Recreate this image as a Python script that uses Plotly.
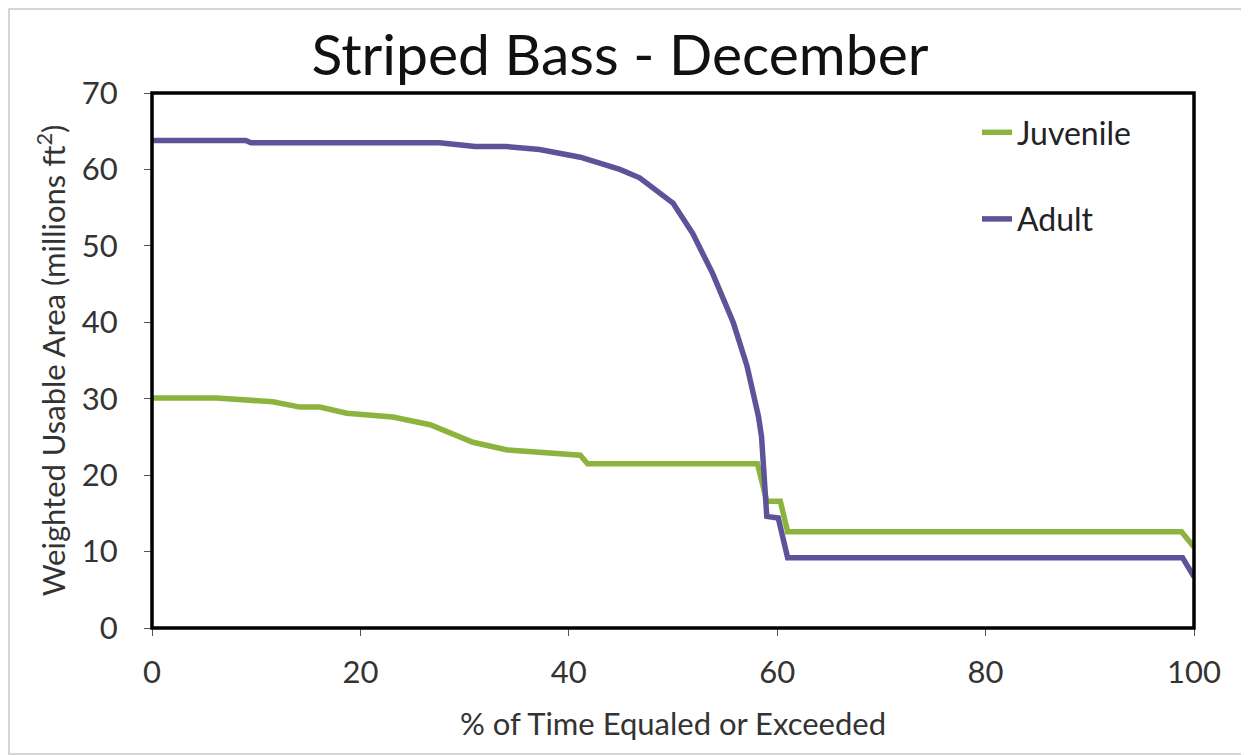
import plotly.graph_objects as go

# Data
juv_x = [0, 6.2, 11.6, 14.2, 16.1, 18.7, 23.1, 26.7, 30.8, 34.1, 41.1, 41.8, 58.1, 59.0, 60.3, 61.0, 98.8, 100]
juv_y = [30.1, 30.1, 29.6, 28.9, 28.9, 28.1, 27.6, 26.6, 24.3, 23.3, 22.6, 21.5, 21.5, 16.6, 16.6, 12.6, 12.6, 10.6]

adult_x = [0, 9.0, 9.5, 27.6, 31.0, 34.0, 37.2, 41.1, 44.9, 46.8, 50.0, 51.9, 53.8, 55.8, 57.1, 58.2, 58.5, 59.0, 60.1, 61.0, 98.9, 100]
adult_y = [63.8, 63.8, 63.5, 63.5, 63.0, 63.0, 62.6, 61.6, 60.0, 58.9, 55.6, 51.6, 46.4, 39.9, 34.3, 27.7, 25.0, 14.6, 14.4, 9.2, 9.2, 6.7]

x_ticks = [0, 20, 40, 60, 80, 100]
y_ticks = [0, 10, 20, 30, 40, 50, 60, 70]

title_text = "Striped Bass - December"
x_title = "% of Time Equaled or Exceeded"
y_title = "Weighted Usable Area (millions ft<sup>2</sup>)"

FONT = "Lato"
GREEN = "#8DB33F"
PURPLE = "#5D5398"

fig = go.Figure()
fig.add_trace(go.Scatter(x=juv_x, y=juv_y, mode="lines", name="Juvenile",
                         line=dict(color=GREEN, width=5.5), legendgroup="j"))
fig.add_trace(go.Scatter(x=adult_x, y=adult_y, mode="lines", name="Adult",
                         line=dict(color=PURPLE, width=5.5), legendgroup="a"))

OFF = 8  # page body margin
W, H = 1249 - OFF, 755 - OFF
L, R, T, B = 152 - OFF, 1194 - OFF, 93 - OFF, 628 - OFF

def px_to_paper_x(px):
    return (px - OFF - L) / (R - L)

def px_to_paper_y(py):
    return (B - (py - OFF)) / (B - T)

fig.update_layout(
    width=W, height=H,
    margin=dict(l=L, r=W - R, t=T, b=H - B),
    paper_bgcolor="white", plot_bgcolor="white",
    font=dict(family=FONT, color="#222222"),
    title=dict(text=title_text, x=((312 + 928) / 2 - OFF) / W, xanchor="center",
               y=1 - (55 - OFF) / H, yanchor="middle", yref="container",
               font=dict(size=57, family=FONT, color="#111111")),
    xaxis=dict(range=[0, 100], tickvals=x_ticks, ticks="outside", ticklen=7,
               tickwidth=1, tickcolor="#555555", ticklabelstandoff=10,
               showline=False, showgrid=False, zeroline=False,
               tickfont=dict(size=31, family=FONT, color="#333333"),
               title=dict(text=x_title, font=dict(size=31, family=FONT, color="#333333"), standoff=24)),
    yaxis=dict(range=[0, 70], tickvals=y_ticks, ticks="outside", ticklen=7,
               tickwidth=1, tickcolor="#555555", ticklabelstandoff=20,
               showline=False, showgrid=False, zeroline=False,
               tickfont=dict(size=31, family=FONT, color="#333333"),
               title=dict(text=y_title, font=dict(size=31, family=FONT, color="#333333"), standoff=6)),
    legend=dict(x=px_to_paper_x(977), y=px_to_paper_y(105), xanchor="left", yanchor="top",
                font=dict(size=32, family=FONT, color="#222222"),
                bgcolor="rgba(0,0,0,0)", traceorder="grouped", tracegroupgap=42),
    shapes=[
        dict(type="rect", xref="paper", yref="paper", x0=0, x1=1, y0=0, y1=1,
             line=dict(color="black", width=3.5), layer="above"),
        dict(type="rect", xref="paper", yref="paper",
             x0=px_to_paper_x(9), x1=px_to_paper_x(1248),
             y0=px_to_paper_y(754), y1=px_to_paper_y(9),
             line=dict(color="#C8C8C8", width=1.5), layer="below"),
    ],
)

fig.write_html("out.html")
